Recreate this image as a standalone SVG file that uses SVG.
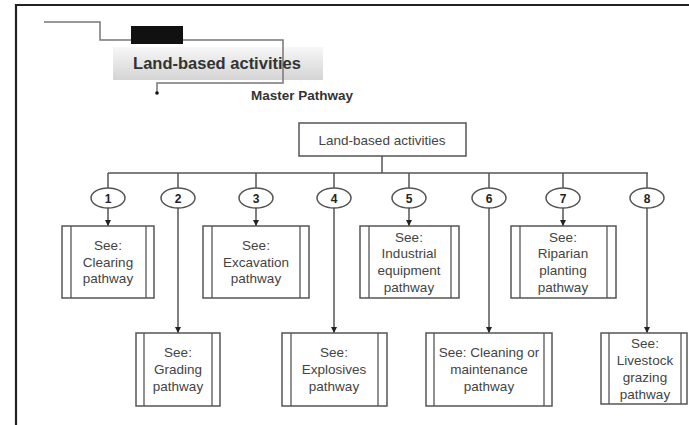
<svg xmlns="http://www.w3.org/2000/svg" width="689" height="425" viewBox="0 0 689 425">
<style>
.frame{stroke:#222;stroke-width:2.2;fill:none}
.hl{stroke:#777;stroke-width:1.5;fill:none}
.c{stroke:#555;stroke-width:1.5;fill:none}
.box{stroke:#555;stroke-width:1.5;fill:#fff}
.in{stroke:#555;stroke-width:1.3}
.t{font-family:"Liberation Sans",Arial,sans-serif;font-size:13.5px;fill:#444;text-anchor:middle}
.n{font-family:"Liberation Sans",Arial,sans-serif;font-size:12px;font-weight:bold;fill:#222;text-anchor:middle}
.ell{stroke:#555;stroke-width:1.5;fill:#fff}
</style>
<defs>
<linearGradient id="g" x1="0" y1="0" x2="0" y2="1">
<stop offset="0" stop-color="#f7f7f7"/>
<stop offset="1" stop-color="#d4d4d4"/>
</linearGradient>
<marker id="a" viewBox="0 0 10 10" refX="10" refY="5" markerWidth="6" markerHeight="6" orient="auto" markerUnits="userSpaceOnUse">
<path d="M0,0 L10,5 L0,10 z" fill="#222"/>
</marker>
</defs>
<rect width="689" height="425" fill="#fff"/>
<g id="frame">
<path class="frame" d="M16,425 V5 H689"/>
</g>
<g id="header">
<rect x="113" y="47" width="210" height="33" fill="url(#g)"/>
<path class="hl" d="M44,22 H100 V40 H283 V83 H157 V92"/>
<circle cx="157" cy="93" r="1.8" fill="#111"/>
<rect x="131" y="26" width="52" height="18" fill="#111"/>
<text x="217" y="69" font-family="Liberation Sans, Arial, sans-serif" font-size="16.5" font-weight="bold" fill="#333" text-anchor="middle">Land-based activities</text>
<text x="251" y="100" font-family="Liberation Sans, Arial, sans-serif" font-size="12" font-weight="bold" fill="#333" textLength="102" lengthAdjust="spacingAndGlyphs">Master Pathway</text>
</g>
<g id="connectors">
<path class="c" d="M382,156 V173 M108,173 H648"/>
<path class="c" d="M108,173 V188 M178,173 V188 M256,173 V188 M334,173 V188 M409,173 V188 M489,173 V188 M563,173 V188 M647,173 V188"/>
<path class="c" marker-end="url(#a)" d="M108,208 V226"/>
<path class="c" marker-end="url(#a)" d="M256,208 V226"/>
<path class="c" marker-end="url(#a)" d="M409,208 V226"/>
<path class="c" marker-end="url(#a)" d="M563,208 V226"/>
<path class="c" marker-end="url(#a)" d="M178,208 V333"/>
<path class="c" marker-end="url(#a)" d="M334,208 V333"/>
<path class="c" marker-end="url(#a)" d="M489,208 V333"/>
<path class="c" marker-end="url(#a)" d="M647,208 V333"/>
</g>
<g id="root">
<rect class="box" x="299" y="123" width="167" height="33"/>
<text class="t" x="382" y="144.5">Land-based activities</text>
</g>
<g id="n1"><ellipse class="ell" cx="108" cy="198" rx="17" ry="10"/><text class="n" x="108" y="202.5">1</text></g>
<g id="n2"><ellipse class="ell" cx="178" cy="198" rx="17" ry="10"/><text class="n" x="178" y="202.5">2</text></g>
<g id="n3"><ellipse class="ell" cx="256" cy="198" rx="17" ry="10"/><text class="n" x="256" y="202.5">3</text></g>
<g id="n4"><ellipse class="ell" cx="334" cy="198" rx="17" ry="10"/><text class="n" x="334" y="202.5">4</text></g>
<g id="n5"><ellipse class="ell" cx="409" cy="198" rx="17" ry="10"/><text class="n" x="409" y="202.5">5</text></g>
<g id="n6"><ellipse class="ell" cx="489" cy="198" rx="17" ry="10"/><text class="n" x="489" y="202.5">6</text></g>
<g id="n7"><ellipse class="ell" cx="563" cy="198" rx="17" ry="10"/><text class="n" x="563" y="202.5">7</text></g>
<g id="n8"><ellipse class="ell" cx="647" cy="198" rx="17" ry="10"/><text class="n" x="647" y="202.5">8</text></g>
<g id="clearing">
<rect class="box" x="62" y="226" width="92" height="72"/>
<line class="in" x1="71" y1="226" x2="71" y2="298"/><line class="in" x1="146" y1="226" x2="146" y2="298"/>
<text class="t" x="108" y="250">See:</text><text class="t" x="108" y="267">Clearing</text><text class="t" x="108" y="283">pathway</text>
</g>
<g id="excavation">
<rect class="box" x="203" y="226" width="106" height="72"/>
<line class="in" x1="212" y1="226" x2="212" y2="298"/><line class="in" x1="300" y1="226" x2="300" y2="298"/>
<text class="t" x="256" y="250">See:</text><text class="t" x="256" y="267">Excavation</text><text class="t" x="256" y="283">pathway</text>
</g>
<g id="industrial">
<rect class="box" x="360" y="226" width="99" height="72"/>
<line class="in" x1="369" y1="226" x2="369" y2="298"/><line class="in" x1="451" y1="226" x2="451" y2="298"/>
<text class="t" x="409" y="242">See:</text><text class="t" x="409" y="258">Industrial</text><text class="t" x="409" y="275">equipment</text><text class="t" x="409" y="292">pathway</text>
</g>
<g id="riparian">
<rect class="box" x="511" y="226" width="105" height="72"/>
<line class="in" x1="520" y1="226" x2="520" y2="298"/><line class="in" x1="607" y1="226" x2="607" y2="298"/>
<text class="t" x="563" y="242">See:</text><text class="t" x="563" y="258">Riparian</text><text class="t" x="563" y="275">planting</text><text class="t" x="563" y="292">pathway</text>
</g>
<g id="grading">
<rect class="box" x="136" y="333" width="84" height="73"/>
<line class="in" x1="144" y1="333" x2="144" y2="406"/><line class="in" x1="212" y1="333" x2="212" y2="406"/>
<text class="t" x="178" y="357">See:</text><text class="t" x="178" y="374">Grading</text><text class="t" x="178" y="391">pathway</text>
</g>
<g id="explosives">
<rect class="box" x="282" y="333" width="105" height="73"/>
<line class="in" x1="291" y1="333" x2="291" y2="406"/><line class="in" x1="378" y1="333" x2="378" y2="406"/>
<text class="t" x="334" y="357">See:</text><text class="t" x="334" y="374">Explosives</text><text class="t" x="334" y="391">pathway</text>
</g>
<g id="cleaning">
<rect class="box" x="426" y="333" width="126" height="73"/>
<line class="in" x1="434" y1="333" x2="434" y2="406"/><line class="in" x1="544" y1="333" x2="544" y2="406"/>
<text class="t" x="489" y="357">See: Cleaning or</text><text class="t" x="489" y="374">maintenance</text><text class="t" x="489" y="391">pathway</text>
</g>
<g id="livestock">
<rect class="box" x="601" y="333" width="86" height="71"/>
<line class="in" x1="609" y1="333" x2="609" y2="404"/><line class="in" x1="681" y1="333" x2="681" y2="404"/>
<text class="t" x="645" y="348">See:</text><text class="t" x="645" y="365">Livestock</text><text class="t" x="645" y="382">grazing</text><text class="t" x="645" y="399">pathway</text>
</g>
</svg>
